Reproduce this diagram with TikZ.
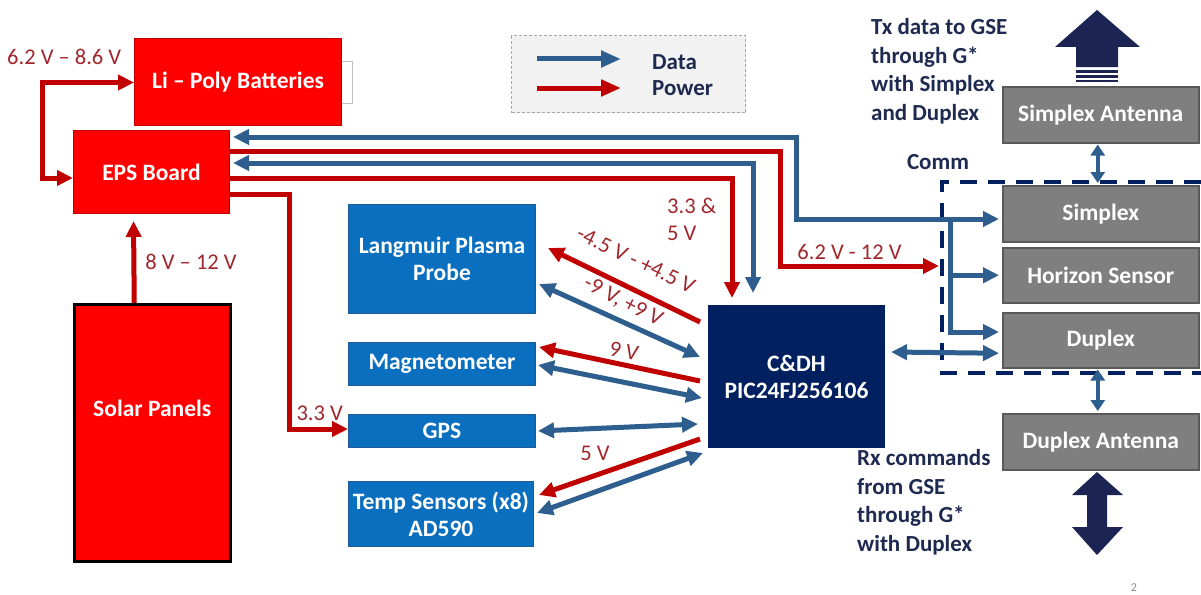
\documentclass[tikz,border=0pt]{standalone}
\usepackage{fontspec}
\setmainfont{Carlito}
\usetikzlibrary{arrows.meta,calc}
\definecolor{pwr}{HTML}{C00000}
\definecolor{dat}{HTML}{2E5E8E}
\definecolor{lbl}{HTML}{A0282D}
\definecolor{boxred}{HTML}{FF0000}
\definecolor{boxblue}{HTML}{0B6FC0}
\definecolor{boxblueedge}{HTML}{1F5A96}
\definecolor{navy}{HTML}{002060}
\definecolor{txtnavy}{HTML}{1F2A50}
\definecolor{gbox}{HTML}{7F7F7F}
\definecolor{gedge}{HTML}{5A5A5A}
\definecolor{bignavy}{HTML}{1C2454}
\definecolor{legfill}{HTML}{F2F2F2}
\definecolor{legbord}{HTML}{A6A6A6}
\tikzset{
  box/.style={anchor=north west, inner sep=0pt, align=center, text=white,
    font=\bfseries\fontsize{23.5}{27}\selectfont},
  redbox/.style={box, fill=boxred, draw=pwr, line width=1pt},
  solarbox/.style={box, fill=boxred, draw=black, line width=2.5pt},
  bluebox/.style={box, fill=boxblue, draw=boxblueedge, line width=1pt},
  cdhbox/.style={box, fill=navy, draw=navy, line width=1pt},
  graybox/.style={box, fill=gbox, draw=gedge, line width=1.5pt},
  pw/.style={draw=pwr, line width=5pt},
  dt/.style={draw=dat, line width=5pt},
  smalldbl/.style={draw=dat, line width=4pt,
    {Triangle[length=11pt,width=14pt]}-{Triangle[length=11pt,width=14pt]}},
  vlabel/.style={text=lbl, inner sep=1pt, font=\fontsize{22.5}{27}\selectfont},
  navytext/.style={text=txtnavy, inner sep=0pt, align=left,
    font=\bfseries\fontsize{23}{28.8}\selectfont},
  commdash/.style={draw=navy, line width=4pt, dash pattern=on 17pt off 11pt},
}
\begin{document}
\begin{tikzpicture}[x=1pt,y=-1pt, >={Triangle[length=16pt,width=15pt]}]
\useasboundingbox[fill=white] (0,0) rectangle (1201,594);

% ---------- boxes ----------
\draw[draw=black!25, fill=white, line width=1pt] (330,62) rectangle (352,103);
\node[redbox, minimum width=207pt, minimum height=87pt] (bat) at (134,38) {Li – Poly Batteries};
\node[redbox, minimum width=156pt, minimum height=83pt] (eps) at (73,130) {EPS Board};
\node[solarbox, minimum width=156pt, minimum height=257pt] (solar) at (73,303) {};
\node[text=white, font=\bfseries\fontsize{23.5}{27}\selectfont] (solartxt) at ($(solar.center)+(0,-24)$) {Solar Panels};

\node[bluebox, minimum width=187pt, minimum height=109pt] (lang) at (348,204) {Langmuir Plasma\\Probe};
\node[bluebox, minimum width=187pt, minimum height=43pt] (mag) at (348,342) {Magnetometer};
\node[bluebox, minimum width=187pt, minimum height=33pt] (gps) at (348,414) {GPS};
\node[bluebox, minimum width=185pt, minimum height=65pt] (temp) at (348,481) {Temp Sensors (x8)\\AD590};
\node[cdhbox, minimum width=176pt, minimum height=142pt] (cdh) at (708,305) {C\&DH\\PIC24FJ256106};

\node[graybox, minimum width=196pt, minimum height=56pt] (sant) at (1002,86) {Simplex Antenna};
\node[graybox, minimum width=196pt, minimum height=56pt] (simplex) at (1002,185) {Simplex};
\node[graybox, minimum width=196pt, minimum height=55pt] (horizon) at (1002,247) {Horizon Sensor};
\node[graybox, minimum width=196pt, minimum height=55pt] (duplex) at (1002,312) {Duplex};
\node[graybox, minimum width=196pt, minimum height=56pt] (dant) at (1002,413) {Duplex Antenna};

% ---------- legend ----------
\node[draw=legbord, fill=legfill, line width=1.2pt, dash pattern=on 3pt off 2pt,
  anchor=north west, inner sep=0pt, minimum width=234pt, minimum height=77pt] (leg) at (511,35) {};
\coordinate (ld) at ($(leg.north west)+(26,24)$);
\coordinate (lp) at ($(leg.north west)+(26,53)$);
\draw[dt,-{Triangle[length=20pt,width=16pt]}] (ld) -- ++(84,0);
\draw[pw,-{Triangle[length=20pt,width=16pt]}] (lp) -- ++(84,0);
\node[navytext, anchor=west] (ldt) at ($(leg.north west)+(141,27)$) {Data};
\node[navytext, anchor=west] (lpt) at ($(leg.north west)+(141,53)$) {Power};

% ---------- comm group ----------
\draw[commdash] (1201,182) -- (942,182) -- (942,373) -- (1201,373);
\node[navytext] (comm) at (938,162) {Comm};
\coordinate (commnw) at (942,182);

% ---------- power / data around EPS ----------
\draw[pw,<->] ($(bat.west)+(0,0.5)$) -- ++(-92,0) |- ($(eps.west)+(0,6)$);
\node[vlabel, anchor=west] (lbat) at (6,57) {6.2 V – 8.6 V};

\draw[pw,->] ($(solar.north)+(-18,0)$) -- node[vlabel, right=8pt] {8 V – 12 V} ($(eps.south)+(-18,7)$);

\draw[pw,->] ($(eps.south east)+(0,-20)$) -- ++(59,0) |- ($(gps.west)+(0,-2)$)
  node[vlabel, pos=0.76, above=5pt] {3.3 V};

% data EPS <-> Simplex / bus
\coordinate (b1) at (950,219);
\coordinate (b3) at (950,332);
\draw[dt,<->] ($(eps.north east)+(3,7)$) -| ($(b1)+(-154,0)$) -- ($(b1 -| simplex.west)+(-3,0)$);
\draw[dt,->] (b1) -- (b3) -- ($(b3 -| duplex.west)+(-3,0)$);
\draw[dt,->] (b1 |- horizon.west) -- ($(horizon.west)+(-3,0)$);

% power EPS -> Comm
\draw[pw,->] ($(eps.north east)+(0,21)$) -| ($(commnw)+(-162,84)$)
  -- node[vlabel, above=3pt, xshift=-10pt] {6.2 V - 12 V} ($(commnw)+(-3,84)$);

% data EPS <-> C&DH
\draw[dt,<->] ($(eps.north east)+(3,33)$) -| ($(cdh.north west)+(45,-12)$);
% power EPS -> C&DH
\draw[pw,->] ($(eps.north east)+(0,48)$) -| ($(cdh.north west)+(24,-7)$);
\node[vlabel, anchor=north west, align=left] (l33) at ($(cdh.north west)+(-42,-108)$) {3.3 \&\\5 V};

% C&DH <-> Duplex
\draw[dt,<->] ($(cdh.north east)+(6,47)$) -- ($(duplex.west)+(-3,13)$);

% ---------- C&DH to sensors ----------
\draw[pw,->] ($(cdh.north west)+(-8,17)$) -- ($(lang.north east)+(12,44)$);
\node[vlabel, rotate=-25.5] (l45) at ($(cdh.north west)+(-72,-45)$) {-4.5 V - +4.5 V};
\node[vlabel, rotate=-27] (l9pm) at ($(cdh.north west)+(-85,-3)$) {-9 V, +9 V};
\draw[dt,<->] ($(lang.south east)+(3,-30)$) -- ($(cdh.north west)+(-8,52)$);

\draw[pw,->] ($(cdh.north west)+(-8,76)$) -- ($(mag.north east)+(3,5)$);
\node[vlabel, rotate=-11] (l9) at ($(cdh.north west)+(-84,46)$) {9 V};
\draw[dt,<->] ($(mag.north east)+(2,23)$) -- ($(cdh.north west)+(-6,93)$);

\draw[dt,<->] ($(gps.east)+(2,0)$) -- ($(cdh.north west)+(-10,119)$);

\draw[pw,->] ($(cdh.north west)+(-8,134)$) -- ($(temp.north east)+(5,14)$);
\node[vlabel] (l5) at ($(cdh.north west)+(-113,148)$) {5 V};
\draw[dt,<->] ($(temp.north east)+(3,32)$) -- ($(cdh.north west)+(-5,148)$);

% ---------- antennas ----------
\draw[smalldbl] ($(sant.south)+(-3,1)$) -- ($(simplex.north)+(-3,-2)$);
\draw[smalldbl] ($(duplex.south)+(-3,1)$) -- ($(dant.north)+(-3,-2)$);

\fill[bignavy] (1097,10) -- (1140,47) -- (1118,47) -- (1118,67) -- (1076,67) -- (1076,47) -- (1055,47) -- cycle;
\fill[bignavy] (1076,70) rectangle (1118,73);
\fill[bignavy] (1076,75) rectangle (1118,77.5);
\fill[bignavy] (1076,79.5) rectangle (1118,81.5);
\fill[bignavy] (1097,472) -- (1123,495) -- (1107,495) -- (1107,527) -- (1123,527) -- (1097,555)
  -- (1072,527) -- (1087,527) -- (1087,495) -- (1072,495) -- cycle;

\node[navytext, anchor=north west] (tx) at (871,18) {Tx data to GSE\\through G*\\with Simplex\\and Duplex};
\node[navytext, anchor=north west] (rx) at (857,449) {Rx commands\\from GSE\\through G*\\with Duplex};

\node[text=black!45, font=\fontsize{12}{14}\selectfont] (pg) at (1134,588) {2};
\end{tikzpicture}
\end{document}
